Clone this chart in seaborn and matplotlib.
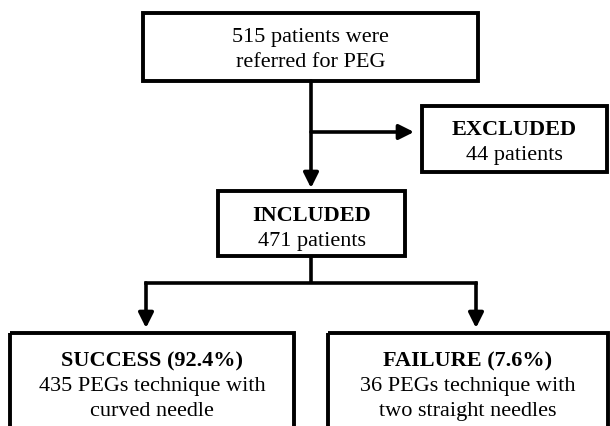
import matplotlib
matplotlib.use('Agg')
import matplotlib.pyplot as plt
import matplotlib.patches as patches
import seaborn as sns

# flow counts
referred = 515
excluded = 44
included = 471
success = 435
failure = 36

box_titles = ['', 'EXCLUDED', 'INCLUDED',
              f'SUCCESS ({success / included * 100:.1f}%)',
              f'FAILURE ({failure / included * 100:.1f}%)']
box_lines = [[f'{referred} patients were', 'referred for PEG'],
             [f'{excluded} patients'],
             [f'{included} patients'],
             [f'{success} PEGs technique with', 'curved needle'],
             [f'{failure} PEGs technique with', 'two straight needles']]

# layout in pixels (x0, y0, x1, y1) and first baseline
boxes = [(143, 13, 478, 81), (422, 106, 607, 172), (218, 191, 405, 256),
         (10, 333, 294, 445), (328, 333, 608, 445)]
first_baseline = [42, 135, 221, 366, 366]
line_step = 25

sns.set_style("white")
plt.rcParams['font.family'] = ['Liberation Serif', 'DejaVu Serif']

fig = plt.figure(figsize=(6.1, 4.26), dpi=100)
ax = fig.add_axes([0, 0, 1, 1])
ax.set_xlim(0, 610)
ax.set_ylim(426, 0)
ax.axis('off')

fs = 16
for (x0, y0, x1, y1), title, lines, yb in zip(boxes, box_titles, box_lines, first_baseline):
    ax.add_patch(patches.Rectangle((x0, y0), x1 - x0, y1 - y0, fill=False,
                                   edgecolor='black', linewidth=2.8, joinstyle='miter'))
    cx = (x0 + x1) / 2
    rows = ([(title, 'bold')] if title else []) + [(l, 'normal') for l in lines]
    for i, (txt, w) in enumerate(rows):
        ax.text(cx, yb + i * line_step, txt, ha='center', va='baseline',
                fontsize=fs, fontweight=w, color='black')

lw = 2.6
ax.plot([146, 476], [283, 283], color='black', lw=lw, solid_capstyle='projecting')
ax.plot([311, 311], [256, 283], color='black', lw=lw, solid_capstyle='butt')

arrows = [((311, 81), (311, 188)), ((311, 132), (414, 132)),
          ((146, 283), (146, 328)), ((476, 283), (476, 328))]
for start, end in arrows:
    ax.annotate('', xy=end, xytext=start,
                arrowprops=dict(arrowstyle='-|>,head_length=0.6,head_width=0.3',
                                mutation_scale=15, color='black', lw=lw,
                                shrinkA=0, shrinkB=0))

plt.savefig('out.png', dpi=100)
